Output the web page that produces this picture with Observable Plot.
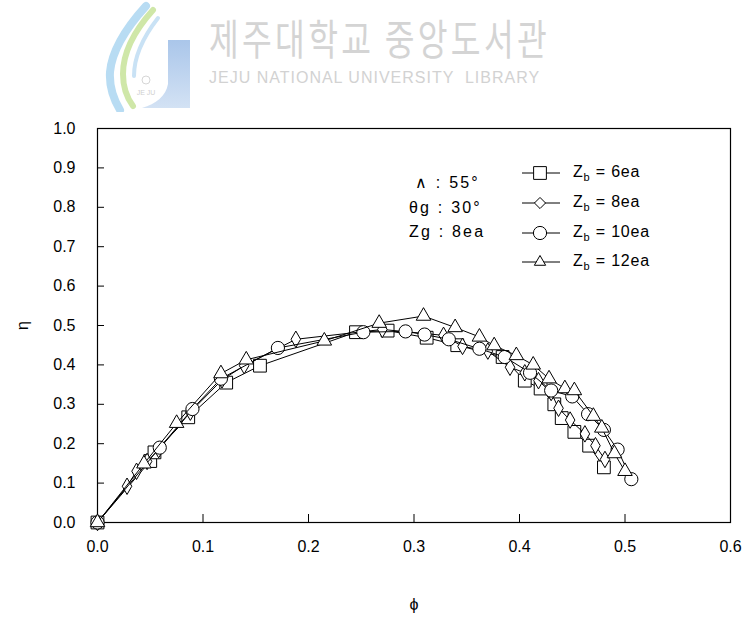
<!DOCTYPE html>
<html>
<head>
<meta charset="utf-8">
<script src="https://cdn.jsdelivr.net/npm/d3@7"></script>
<script src="https://cdn.jsdelivr.net/npm/@observablehq/plot@0.6"></script>
<style>
  body { margin: 0; background: #fff; }
  #wrap { position: relative; width: 747px; height: 621px; font-family: "Liberation Sans", Arial, sans-serif; color: #000; }
  #wrap svg.plot { position: absolute; left: 0; top: 0; }
  .wm-kr { position: absolute; left: 209px; top: 16px; font-family: "Noto Sans CJK KR", sans-serif; font-size: 40px; color: #d4d4d4; letter-spacing: 4px; transform: scale(0.81, 1.05); transform-origin: left top; white-space: pre; line-height: 1; }
  .wm-en { position: absolute; left: 209px; top: 70px; font-size: 16px; color: #d2d2d2; letter-spacing: 1px; white-space: pre; line-height: 1; }
  .note { position: absolute; left: 409px; font-size: 16px; letter-spacing: 2.2px; white-space: pre; line-height: 1; }
  .leg { position: absolute; left: 573px; font-size: 16px; letter-spacing: 0.8px; white-space: pre; line-height: 1; }
  .leg sub { font-size: 11px; vertical-align: -4px; }
</style>
</head>
<body>
<div id="wrap"></div>
<script>
// Flow coefficient φ and efficiency η for each number of blades Z_b
const phi6  = [0, 0.050, 0.054, 0.086, 0.122, 0.154, 0.245, 0.275, 0.312, 0.341, 0.384, 0.405, 0.420, 0.433, 0.440, 0.452, 0.466, 0.480];
const eta6  = [0, 0.156, 0.178, 0.267, 0.355, 0.398, 0.483, 0.487, 0.469, 0.450, 0.420, 0.360, 0.340, 0.300, 0.265, 0.230, 0.195, 0.140];

const phi8  = [0, 0.028, 0.037, 0.047, 0.058, 0.088, 0.118, 0.139, 0.188, 0.270, 0.328, 0.346, 0.370, 0.391, 0.405, 0.418, 0.430, 0.437, 0.448, 0.462, 0.472, 0.481];
const eta8  = [0, 0.092, 0.130, 0.155, 0.185, 0.280, 0.362, 0.398, 0.465, 0.490, 0.475, 0.447, 0.435, 0.394, 0.380, 0.360, 0.330, 0.290, 0.260, 0.225, 0.195, 0.160];

const phi10 = [0, 0.059, 0.090, 0.117, 0.171, 0.252, 0.292, 0.310, 0.333, 0.362, 0.386, 0.410, 0.430, 0.450, 0.465, 0.480, 0.493, 0.506];
const eta10 = [0, 0.190, 0.288, 0.365, 0.443, 0.483, 0.485, 0.477, 0.465, 0.441, 0.420, 0.380, 0.335, 0.320, 0.275, 0.235, 0.185, 0.110];

const phi12 = [0, 0.044, 0.075, 0.117, 0.141, 0.215, 0.267, 0.309, 0.339, 0.362, 0.376, 0.397, 0.413, 0.428, 0.443, 0.452, 0.470, 0.478, 0.490, 0.500];
const eta12 = [0, 0.149, 0.252, 0.378, 0.413, 0.461, 0.506, 0.524, 0.495, 0.471, 0.449, 0.424, 0.400, 0.365, 0.340, 0.335, 0.270, 0.240, 0.175, 0.130];

const seriesNames = ["6ea", "8ea", "10ea", "12ea"];
const xTicks = [0, 0.1, 0.2, 0.3, 0.4, 0.5, 0.6];
const yTicks = [0, 0.1, 0.2, 0.3, 0.4, 0.5, 0.6, 0.7, 0.8, 0.9, 1.0];
const notes = ["∧ : 55°", "θg : 30°", "Zg : 8ea"];

const series = [
  {name: seriesNames[0], phi: phi6,  eta: eta6,  symbol: "square",   r: 7.2},
  {name: seriesNames[1], phi: phi8,  eta: eta8,  symbol: "diamond",  r: 5.0},
  {name: seriesNames[2], phi: phi10, eta: eta10, symbol: "circle",   r: 6.6},
  {name: seriesNames[3], phi: phi12, eta: eta12, symbol: "triangle", r: 5.4}
];

const marks = [];
for (const s of series) {
  const rows = s.phi.map((p, i) => ({phi: p, eta: s.eta[i]}));
  marks.push(Plot.line(rows, {x: "phi", y: "eta", stroke: "#000", strokeWidth: 1}));
  marks.push(Plot.dot(rows, {x: "phi", y: "eta", symbol: s.symbol, r: s.r, fill: "#fff", stroke: "#000", strokeWidth: 1}));
}

const fmt = d3.format(".1f");
const chart = Plot.plot({
  width: 747,
  height: 621,
  marginTop: 128,
  marginBottom: 99,
  marginLeft: 97,
  marginRight: 17,
  style: {fontSize: "16px", fontFamily: `"Liberation Sans", Arial, sans-serif`, background: "transparent", color: "#000"},
  x: {domain: [0, 0.6]},
  y: {domain: [0, 1.0]},
  marks: [
    Plot.axisX({ticks: xTicks, tickFormat: fmt, tickSize: -8, tickPadding: 26, label: "ϕ", labelAnchor: "center", labelOffset: 87, labelArrow: false}),
    Plot.axisY({ticks: yTicks, tickFormat: fmt, tickSize: -7, tickPadding: 29, label: "η", labelAnchor: "center", labelOffset: 81, labelArrow: false}),
    Plot.frame({stroke: "#000", strokeWidth: 1.2}),
    ...marks
  ]
});
chart.classList.add("plot");

const wrap = document.getElementById("wrap");
wrap.appendChild(chart);

// library watermark
const logo = document.createElementNS("http://www.w3.org/2000/svg", "svg");
logo.setAttribute("width", 100);
logo.setAttribute("height", 112);
logo.style.position = "absolute";
logo.style.left = "98px";
logo.style.top = "0px";
logo.innerHTML = `
  <defs>
    <linearGradient id="jfade" x1="0" y1="0" x2="0" y2="1">
      <stop offset="0" stop-color="#aac6ea"/>
      <stop offset="1" stop-color="#d3e2f4"/>
    </linearGradient>
  </defs>
  <path d="M48,6 C28,28 14,50 12,72 C11,88 16,100 22,110" fill="none" stroke="#b8dcf3" stroke-width="8" stroke-linecap="round"/>
  <path d="M55,10 C37,30 25,52 25,74 C25,88 29,98 35,106" fill="none" stroke="#cfe7a8" stroke-width="6" stroke-linecap="round"/>
  <path d="M60,18 C46,36 36,56 36,76" fill="none" stroke="#c9e2f5" stroke-width="4" stroke-linecap="round"/>
  <path d="M70,40 L92,40 L92,108 L44,108 C58,104 68,96 70,84 Z" fill="url(#jfade)"/>
  <circle cx="48" cy="80" r="4" fill="none" stroke="#d6d6d6" stroke-width="1"/>
  <text x="48" y="95" font-size="7" fill="#cfcfcf" text-anchor="middle" font-family="Liberation Sans, Arial">JE JU</text>
`;
wrap.appendChild(logo);

const kr = document.createElement("div");
kr.className = "wm-kr";
kr.textContent = "제주대학교 중앙도서관";
wrap.appendChild(kr);

const en = document.createElement("div");
en.className = "wm-en";
en.textContent = "JEJU NATIONAL UNIVERSITY  LIBRARY";
wrap.appendChild(en);

// operating condition notes
const noteTops = [175, 200, 224];
notes.forEach((t, i) => {
  const d = document.createElement("div");
  d.className = "note";
  d.style.top = noteTops[i] + "px";
  if (i === 0) d.style.left = "415px";
  d.textContent = t;
  wrap.appendChild(d);
});

// legend
const legRowY = [173, 203, 233, 262];
const symMap = {square: d3.symbolSquare, diamond: d3.symbolDiamond2, circle: d3.symbolCircle, triangle: d3.symbolTriangle2};
const legSvg = d3.create("svg").attr("width", 60).attr("height", 120)
  .style("position", "absolute").style("left", "515px").style("top", "158px");
series.forEach((s, i) => {
  const cy = legRowY[i] - 158;
  legSvg.append("line").attr("x1", 7).attr("x2", 45).attr("y1", cy).attr("y2", cy).attr("stroke", "#000").attr("stroke-width", 1);
  legSvg.append("path")
    .attr("d", d3.symbol(symMap[s.symbol], Math.PI * s.r * s.r)())
    .attr("transform", `translate(25,${cy})`)
    .attr("fill", "#fff").attr("stroke", "#000").attr("stroke-width", 1);
  const t = document.createElement("div");
  t.className = "leg";
  t.style.top = (legRowY[i] - 9) + "px";
  t.innerHTML = `Z<sub>b</sub> = ${s.name}`;
  wrap.appendChild(t);
});
wrap.appendChild(legSvg.node());
</script>
</body>
</html>
